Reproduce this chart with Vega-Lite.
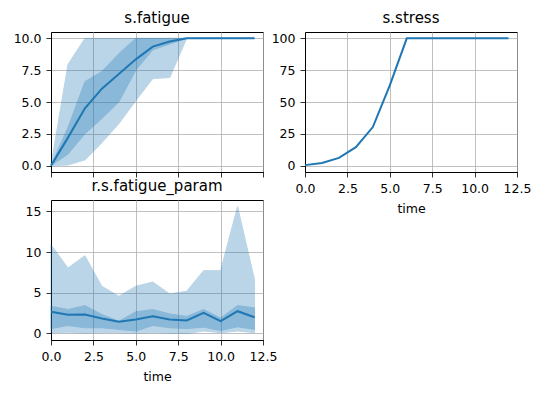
{
  "$schema": "https://vega.github.io/schema/vega-lite/v6.json",
  "padding": {"left": 12, "top": 10, "right": 5, "bottom": 5},
  "background": "white",
  "bounds": "flush",
  "spacing": {"row": 28, "column": 42},
  "columns": 2,
  "datasets": {
    "fat": [
      {"time": 0, "mean": 0, "lo1": 0, "hi1": 0, "lo2": 0, "hi2": 0},
      {"time": 1, "mean": 2.2, "lo1": 0.9, "hi1": 3.0, "lo2": 0.05, "hi2": 7.95},
      {"time": 2, "mean": 4.5, "lo1": 2.5, "hi1": 6.6, "lo2": 0.45, "hi2": 10},
      {"time": 3, "mean": 6.05, "lo1": 3.7, "hi1": 7.4, "lo2": 1.8, "hi2": 10},
      {"time": 4, "mean": 7.2, "lo1": 5.0, "hi1": 8.8, "lo2": 3.3, "hi2": 10},
      {"time": 5, "mean": 8.35, "lo1": 7.5, "hi1": 10, "lo2": 5.1, "hi2": 10},
      {"time": 6, "mean": 9.35, "lo1": 9.1, "hi1": 10, "lo2": 6.84, "hi2": 10},
      {"time": 7, "mean": 9.75, "lo1": 9.55, "hi1": 10, "lo2": 6.92, "hi2": 10},
      {"time": 8, "mean": 10, "lo1": 10, "hi1": 10, "lo2": 10, "hi2": 10},
      {"time": 9, "mean": 10, "lo1": 10, "hi1": 10, "lo2": 10, "hi2": 10},
      {"time": 10, "mean": 10, "lo1": 10, "hi1": 10, "lo2": 10, "hi2": 10},
      {"time": 11, "mean": 10, "lo1": 10, "hi1": 10, "lo2": 10, "hi2": 10},
      {"time": 12, "mean": 10, "lo1": 10, "hi1": 10, "lo2": 10, "hi2": 10}
    ],
    "stress": [
      {"time": 0, "value": 0.4},
      {"time": 1, "value": 2.1},
      {"time": 2, "value": 6.1},
      {"time": 3, "value": 14.5},
      {"time": 4, "value": 30.3},
      {"time": 5, "value": 63},
      {"time": 6, "value": 100},
      {"time": 7, "value": 100},
      {"time": 8, "value": 100},
      {"time": 9, "value": 100},
      {"time": 10, "value": 100},
      {"time": 11, "value": 100},
      {"time": 12, "value": 100}
    ],
    "param": [
      {"time": 0, "mean": 2.66, "lo1": 0.6, "hi1": 3.35, "lo2": 0.1, "hi2": 10.9},
      {"time": 1, "mean": 2.29, "lo1": 0.98, "hi1": 2.94, "lo2": 0.15, "hi2": 8.05},
      {"time": 2, "mean": 2.33, "lo1": 0.7, "hi1": 3.43, "lo2": 0.05, "hi2": 9.56},
      {"time": 3, "mean": 1.84, "lo1": 0.7, "hi1": 2.33, "lo2": 0.1, "hi2": 5.8},
      {"time": 4, "mean": 1.43, "lo1": 0.5, "hi1": 1.5, "lo2": 0.1, "hi2": 4.58},
      {"time": 5, "mean": 1.72, "lo1": 0.3, "hi1": 2.66, "lo2": 0.05, "hi2": 5.8},
      {"time": 6, "mean": 2.12, "lo1": 0.98, "hi1": 2.94, "lo2": 0.1, "hi2": 6.33},
      {"time": 7, "mean": 1.72, "lo1": 0.7, "hi1": 2.4, "lo2": 0.05, "hi2": 4.86},
      {"time": 8, "mean": 1.6, "lo1": 0.6, "hi1": 2.1, "lo2": 0.0, "hi2": 5.19},
      {"time": 9, "mean": 2.53, "lo1": 0.78, "hi1": 2.94, "lo2": 0.3, "hi2": 7.72},
      {"time": 10, "mean": 1.51, "lo1": 0.37, "hi1": 1.9, "lo2": 0.1, "hi2": 7.72},
      {"time": 11, "mean": 2.74, "lo1": 0.82, "hi1": 3.43, "lo2": 0.3, "hi2": 15.6},
      {"time": 12, "mean": 2.0, "lo1": 0.5, "hi1": 3.15, "lo2": 0.1, "hi2": 6.6}
    ]
  },
  "config": {
    "font": "DejaVu Sans",
    "view": {"stroke": "black", "strokeWidth": 1},
    "axis": {
      "gridColor": "#b0b0b0", "gridWidth": 0.8, "gridOpacity": 1,
      "domainColor": "black", "tickColor": "black", "tickSize": 5, "tickWidth": 0.8,
      "labelFont": "DejaVu Sans", "labelFontSize": 12.5, "labelColor": "black", "labelPadding": 5,
      "labelFlush": false, "labelOverlap": false,
      "titleFont": "DejaVu Sans", "titleFontSize": 12.5, "titleFontWeight": "normal", "titleColor": "black", "titlePadding": 8,
      "zindex": 1
    },
    "title": {"font": "DejaVu Sans", "fontSize": 15, "fontWeight": "normal", "color": "black", "offset": 6}
  },
  "concat": [
    {
      "title": "s.fatigue",
      "width": 212, "height": 140,
      "data": {"name": "fat"},
      "encoding": {
        "x": {"field": "time", "type": "quantitative", "scale": {"domain": [0, 12.5], "nice": false, "zero": false},
              "axis": {"values": [0, 2.5, 5, 7.5, 10, 12.5], "labels": false, "title": null}}
      },
      "layer": [
        {
          "mark": {"type": "area", "color": "#1f77b4", "opacity": 0.3, "stroke": "#1f77b4", "strokeWidth": 1},
          "encoding": {
            "y": {"field": "lo2", "type": "quantitative", "scale": {"domain": [-0.5, 10.5], "nice": false, "zero": false},
                  "axis": {"values": [0, 2.5, 5, 7.5, 10], "format": ".1f", "title": null, "labelOverlap": false}},
            "y2": {"field": "hi2"}
          }
        },
        {
          "mark": {"type": "area", "color": "#1f77b4", "opacity": 0.3, "stroke": "#1f77b4", "strokeWidth": 1},
          "encoding": {
            "y": {"field": "lo1", "type": "quantitative", "scale": {"domain": [-0.5, 10.5], "nice": false, "zero": false},
                  "axis": {"values": [0, 2.5, 5, 7.5, 10], "format": ".1f", "title": null, "labelOverlap": false}},
            "y2": {"field": "hi1"}
          }
        },
        {
          "mark": {"type": "line", "color": "#1f77b4", "strokeWidth": 2},
          "encoding": {
            "y": {"field": "mean", "type": "quantitative", "scale": {"domain": [-0.5, 10.5], "nice": false, "zero": false},
                  "axis": {"values": [0, 2.5, 5, 7.5, 10], "format": ".1f", "title": null, "labelOverlap": false}}
          }
        }
      ]
    },
    {
      "title": "s.stress",
      "width": 212, "height": 140,
      "data": {"name": "stress"},
      "mark": {"type": "line", "color": "#1f77b4", "strokeWidth": 2},
      "encoding": {
        "x": {"field": "time", "type": "quantitative", "scale": {"domain": [0, 12.5], "nice": false, "zero": false},
              "axis": {"values": [0, 2.5, 5, 7.5, 10, 12.5], "format": ".1f", "title": "time"}},
        "y": {"field": "value", "type": "quantitative", "scale": {"domain": [-5, 105], "nice": false, "zero": false},
              "axis": {"values": [0, 25, 50, 75, 100], "title": null}}
      }
    },
    {
      "title": "r.s.fatigue_param",
      "width": 212, "height": 140,
      "data": {"name": "param"},
      "encoding": {
        "x": {"field": "time", "type": "quantitative", "scale": {"domain": [0, 12.5], "nice": false, "zero": false},
              "axis": {"values": [0, 2.5, 5, 7.5, 10, 12.5], "format": ".1f", "title": "time"}}
      },
      "layer": [
        {
          "mark": {"type": "area", "color": "#1f77b4", "opacity": 0.3, "stroke": "#1f77b4", "strokeWidth": 1},
          "encoding": {
            "y": {"field": "lo2", "type": "quantitative", "scale": {"domain": [-0.8, 16.4], "nice": false, "zero": false},
                  "axis": {"values": [0, 5, 10, 15], "title": null}},
            "y2": {"field": "hi2"}
          }
        },
        {
          "mark": {"type": "area", "color": "#1f77b4", "opacity": 0.3, "stroke": "#1f77b4", "strokeWidth": 1},
          "encoding": {
            "y": {"field": "lo1", "type": "quantitative", "scale": {"domain": [-0.8, 16.4], "nice": false, "zero": false},
                  "axis": {"values": [0, 5, 10, 15], "title": null}},
            "y2": {"field": "hi1"}
          }
        },
        {
          "mark": {"type": "line", "color": "#1f77b4", "strokeWidth": 2},
          "encoding": {
            "y": {"field": "mean", "type": "quantitative", "scale": {"domain": [-0.8, 16.4], "nice": false, "zero": false},
                  "axis": {"values": [0, 5, 10, 15], "title": null}}
          }
        }
      ]
    }
  ]
}
